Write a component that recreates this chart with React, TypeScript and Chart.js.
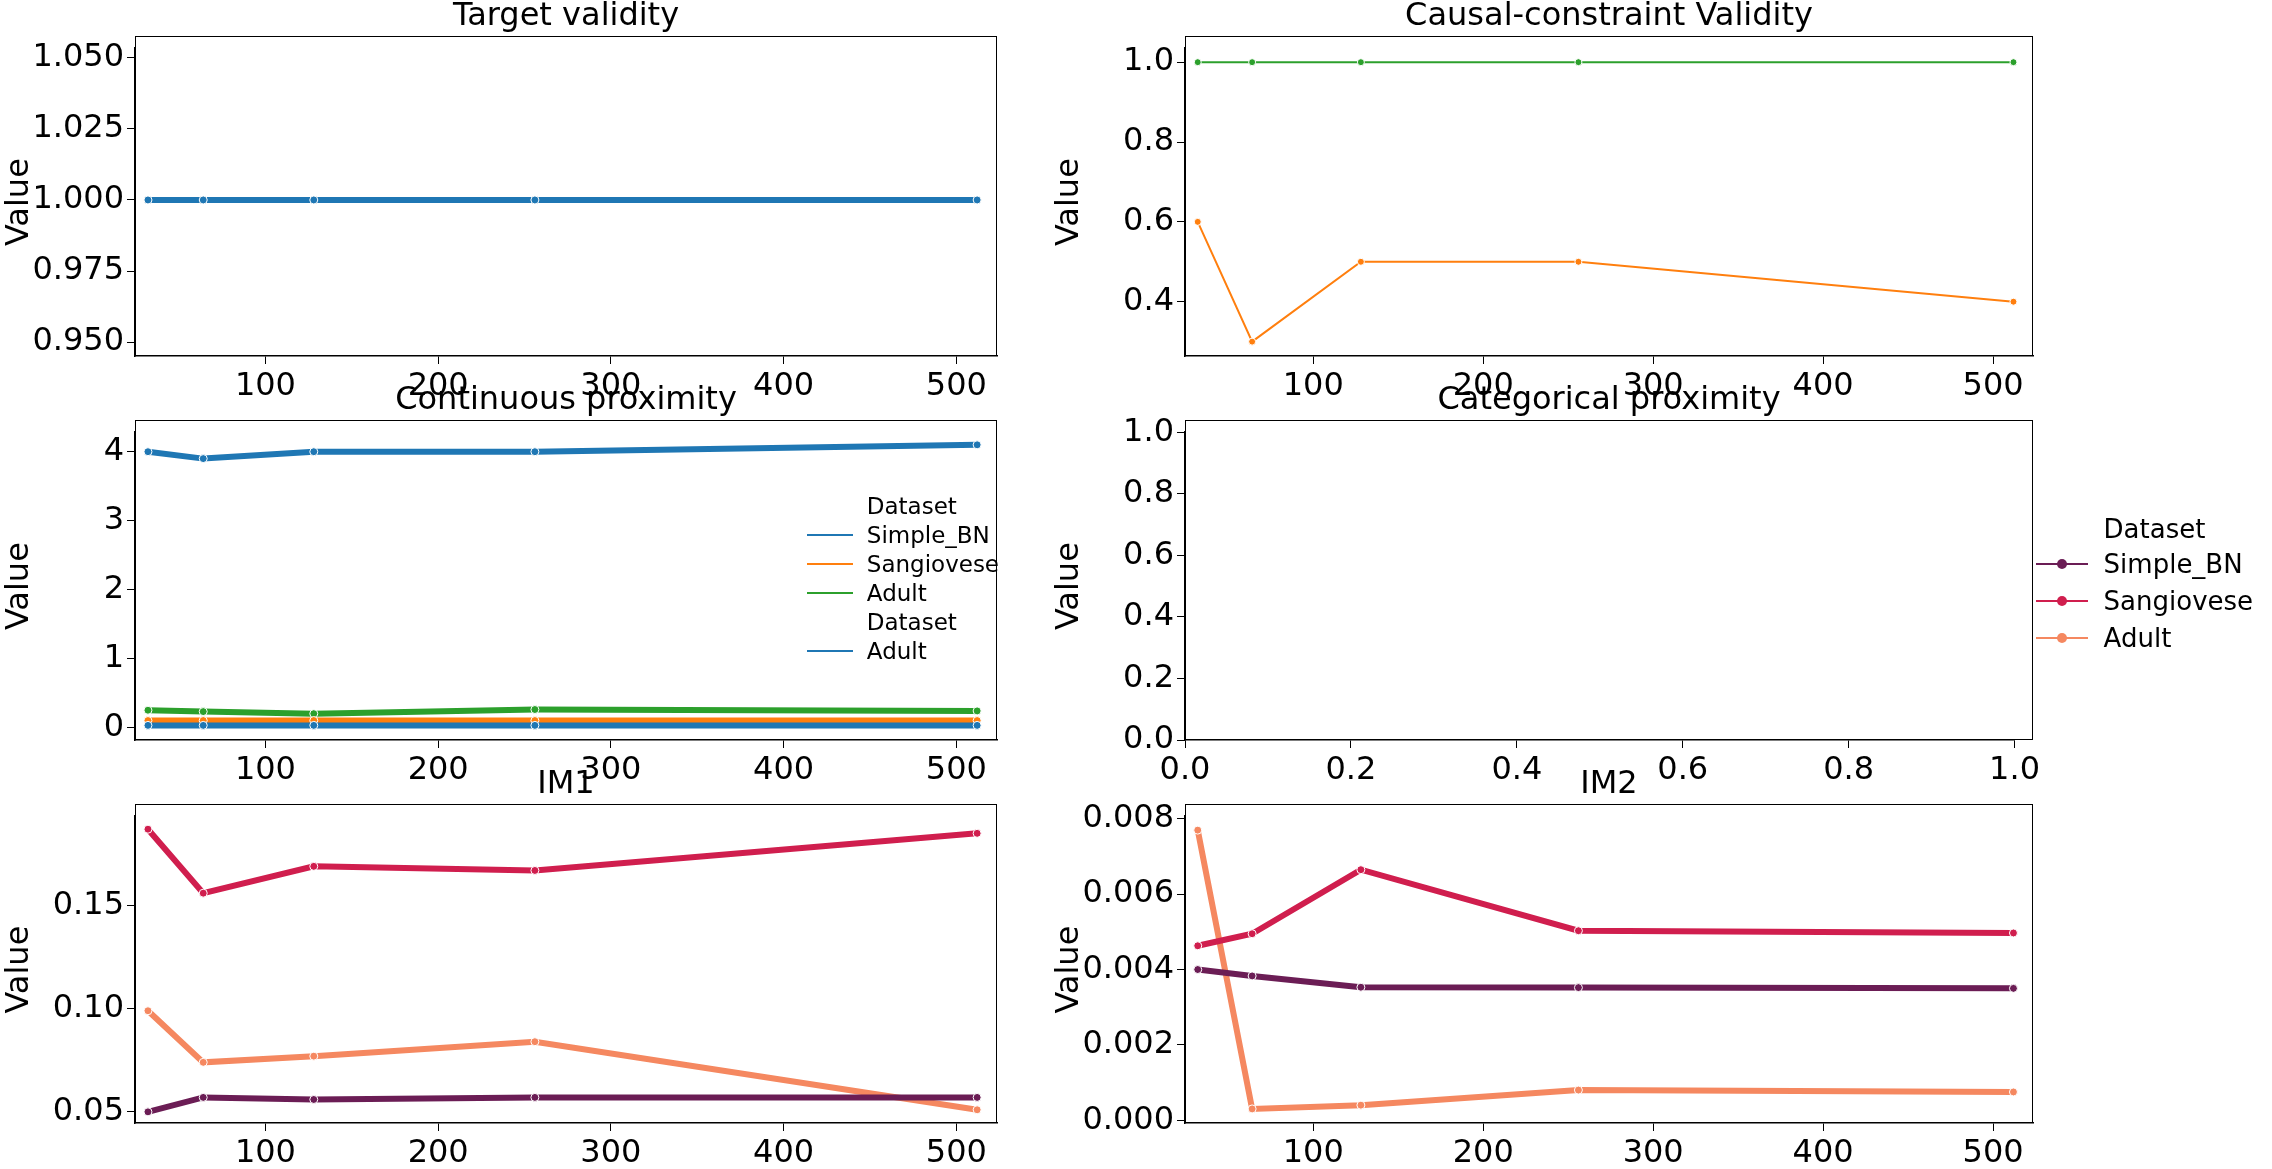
import React, { useEffect, useRef } from "react";
import { Chart, registerables } from "chart.js";

Chart.register(...registerables);

const sizes = [32, 64, 128, 256, 512];

// Target validity
const targetSimple = [1, 1, 1, 1, 1];
const targetSangio = [1, 1, 1, 1, 1];
const targetAdult = [1, 1, 1, 1, 1];
// Causal-constraint validity
const causalSangio = [0.6, 0.3, 0.5, 0.5, 0.4];
const causalAdult = [1, 1, 1, 1, 1];
// Continuous proximity
const contSimple = [4.0, 3.9, 4.0, 4.0, 4.1];
const contSangio = [0.1, 0.1, 0.1, 0.1, 0.1];
const contAdult = [0.25, 0.23, 0.2, 0.26, 0.24];
const contAdult2 = [0.03, 0.03, 0.03, 0.03, 0.03];
// IM1
const im1Simple = [0.05, 0.057, 0.056, 0.057, 0.057];
const im1Sangio = [0.187, 0.156, 0.169, 0.167, 0.185];
const im1Adult = [0.099, 0.074, 0.077, 0.084, 0.051];
// IM2
const im2Simple = [0.004, 0.00383, 0.00353, 0.00352, 0.0035];
const im2Sangio = [0.00463, 0.00495, 0.00665, 0.00503, 0.00497];
const im2Adult = [0.0077, 0.0003, 0.0004, 0.0008, 0.00075];

const tab = { blue: "#1f77b4", orange: "#ff7f0e", green: "#2ca02c" };
const rocket = { simple: "#6b1d55", sangio: "#d01e4e", adult: "#f58860" };

const FONT = "DejaVu Sans";
const LEFT = 135;
const PAD = 10;
const XH = 55;

type Series = { data: number[]; color: string; width: number };

interface PanelProps {
  x: number;
  y: number;
  w: number;
  h: number;
  title: string;
  series: Series[];
  ymin: number;
  ymax: number;
  yticks: number[];
  ydec: number;
  xmin?: number;
  xmax?: number;
  xticks?: number[];
  xdec?: number;
}

const Panel: React.FC<PanelProps> = (p) => {
  const ref = useRef<HTMLCanvasElement>(null);
  useEffect(() => {
    if (!ref.current) return;
    const chart = new Chart(ref.current, {
      type: "line",
      data: {
        datasets: p.series.map((s) => ({
          data: s.data.map((v, i) => ({ x: sizes[i], y: v })),
          borderColor: s.color,
          backgroundColor: s.color,
          borderWidth: s.width,
          pointRadius: s.width > 4 ? 4 : 3.5,
          pointBorderColor: "#ffffff",
          pointBorderWidth: 1,
          tension: 0,
        })),
      },
      options: {
        animation: false,
        responsive: false,
        devicePixelRatio: 1,
        layout: { padding: { top: PAD, right: PAD, left: 0, bottom: 0 } },
        plugins: { legend: { display: false }, tooltip: { enabled: false } },
        scales: {
          x: {
            type: "linear",
            min: p.xmin ?? 24.5,
            max: p.xmax ?? 523.5,
            afterBuildTicks: (s: any) => {
              s.ticks = (p.xticks ?? [100, 200, 300, 400, 500]).map((v) => ({ value: v }));
            },
            afterFit: (s: any) => {
              s.height = XH;
            },
            ticks: {
              font: { family: FONT, size: 32 },
              color: "#000",
              maxRotation: 0,
              callback: (v: any) => Number(v).toFixed(p.xdec ?? 0),
            },
            grid: { drawOnChartArea: false, drawTicks: true, tickLength: 8, color: "#000" },
            border: { color: "#000", width: 1.5 },
          },
          y: {
            min: p.ymin,
            max: p.ymax,
            afterBuildTicks: (s: any) => {
              s.ticks = p.yticks.map((v) => ({ value: v }));
            },
            afterFit: (s: any) => {
              s.width = LEFT;
            },
            title: { display: true, text: "Value", font: { family: FONT, size: 32 }, color: "#000", padding: 0 },
            ticks: {
              font: { family: FONT, size: 32 },
              color: "#000",
              callback: (v: any) => Number(v).toFixed(p.ydec),
            },
            grid: { drawOnChartArea: false, drawTicks: true, tickLength: 8, color: "#000" },
            border: { color: "#000", width: 1.5 },
          },
        },
      },
    });
    return () => chart.destroy();
  }, []);
  return (
    <>
      <canvas
        ref={ref}
        width={p.w + LEFT + PAD}
        height={p.h + PAD + XH}
        style={{ position: "absolute", left: p.x - LEFT, top: p.y - PAD }}
      />
      <div
        style={{
          position: "absolute",
          left: p.x,
          top: p.y,
          width: p.w,
          height: p.h,
          border: "1.5px solid #000",
          boxSizing: "border-box",
          pointerEvents: "none",
        }}
      />
      <div
        style={{
          position: "absolute",
          left: p.x,
          top: p.y - 42,
          width: p.w,
          textAlign: "center",
          fontFamily: FONT,
          fontSize: 32,
          lineHeight: "40px",
        }}
      >
        {p.title}
      </div>
    </>
  );
};

const LegendRow: React.FC<{ x: number; y: number; label: string; color?: string; size: number; dot?: boolean }> = ({
  x,
  y,
  label,
  color,
  size,
  dot,
}) => (
  <div style={{ position: "absolute", left: x, top: y - size * 0.7, display: "flex", alignItems: "center", fontFamily: FONT, fontSize: size, lineHeight: `${size * 1.4}px` }}>
    <div style={{ width: size * 2, position: "relative", height: 2, marginRight: size * 0.6 }}>
      {color && <div style={{ position: "absolute", left: 0, right: 0, top: 0, height: 2, background: color }} />}
      {color && dot && (
        <div style={{ position: "absolute", left: size - 5, top: -4, width: 10, height: 10, borderRadius: 5, background: color }} />
      )}
    </div>
    <span>{label}</span>
  </div>
);

const LX = 135;
const LW = 862;
const RX = 1185;
const RW = 848;
const R1 = 36;
const R2 = 420;
const R3 = 804;
const H = 320;

export default function App() {
  return (
    <div style={{ position: "absolute", left: 0, top: 0, width: 2272, height: 1169, background: "#fff", overflow: "hidden" }}>
      <Panel x={LX} y={R1} w={LW} h={H} title="Target validity" ymin={0.9451} ymax={1.0534}
        yticks={[0.95, 0.975, 1.0, 1.025, 1.05]} ydec={3}
        series={[
          { data: targetSimple, color: tab.blue, width: 6 },
          { data: targetSangio, color: tab.orange, width: 6 },
          { data: targetAdult, color: tab.green, width: 6 },
        ]} />
      <Panel x={RX} y={R1} w={RW} h={H} title="Causal-constraint Validity" ymin={0.264} ymax={1.035}
        yticks={[0.4, 0.6, 0.8, 1.0]} ydec={1}
        series={[
          { data: causalSangio, color: tab.orange, width: 2 },
          { data: causalAdult, color: tab.green, width: 2 },
        ]} />
      <Panel x={LX} y={R2} w={LW} h={H} title="Continuous proximity" ymin={-0.182} ymax={4.283}
        yticks={[0, 1, 2, 3, 4]} ydec={0}
        series={[
          { data: contAdult2, color: tab.blue, width: 6 },
          { data: contSangio, color: tab.orange, width: 6 },
          { data: contAdult, color: tab.green, width: 6 },
          { data: contSimple, color: tab.blue, width: 6 },
        ]} />
      <Panel x={RX} y={R2} w={RW} h={H} title="Categorical proximity" ymin={0} ymax={1}
        yticks={[0, 0.2, 0.4, 0.6, 0.8, 1.0]} ydec={1}
        xmin={0} xmax={1} xticks={[0, 0.2, 0.4, 0.6, 0.8, 1.0]} xdec={1}
        series={[]} />
      <Panel x={LX} y={R3} w={LW} h={H - 1} title="IM1" ymin={0.0446} ymax={0.1933}
        yticks={[0.05, 0.1, 0.15]} ydec={2}
        series={[
          { data: im1Simple, color: rocket.simple, width: 6 },
          { data: im1Sangio, color: rocket.sangio, width: 6 },
          { data: im1Adult, color: rocket.adult, width: 6 },
        ]} />
      <Panel x={RX} y={R3} w={RW} h={H - 1} title="IM2" ymin={-0.000074} ymax={0.00807}
        yticks={[0, 0.002, 0.004, 0.006, 0.008]} ydec={3}
        series={[
          { data: im2Simple, color: rocket.simple, width: 6 },
          { data: im2Sangio, color: rocket.sangio, width: 6 },
          { data: im2Adult, color: rocket.adult, width: 6 },
        ]} />

      {/* legend inside Continuous proximity */}
      <LegendRow x={807} y={506} label="Dataset" size={23} />
      <LegendRow x={807} y={535} label="Simple_BN" color={tab.blue} size={23} />
      <LegendRow x={807} y={564} label="Sangiovese" color={tab.orange} size={23} />
      <LegendRow x={807} y={593} label="Adult" color={tab.green} size={23} />
      <LegendRow x={807} y={622} label="Dataset" size={23} />
      <LegendRow x={807} y={651} label="Adult" color={tab.blue} size={23} />

      {/* figure legend */}
      <LegendRow x={2036} y={529} label="Dataset" size={26} />
      <LegendRow x={2036} y={564} label="Simple_BN" color={rocket.simple} size={26} dot />
      <LegendRow x={2036} y={601} label="Sangiovese" color={rocket.sangio} size={26} dot />
      <LegendRow x={2036} y={638} label="Adult" color={rocket.adult} size={26} dot />
    </div>
  );
}
